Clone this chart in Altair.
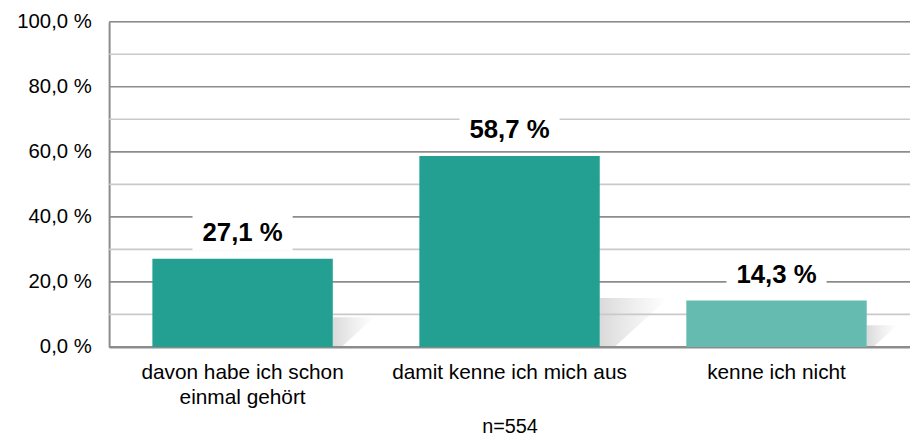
import altair as alt
import pandas as pd

categories = ["davon habe ich schon|einmal gehört", "damit kenne ich mich aus", "kenne ich nicht"]
values = [27.1, 58.7, 14.3]
bar_colors = ["#23a092", "#23a092", "#66bbb1"]
major_ticks = [0, 20, 40, 60, 80, 100]
minor_ticks = [10, 30, 50, 70, 90]
sample_note = "n=554"

W, H = 808, 328

df = pd.DataFrame({
    "cat": categories,
    "value": values,
    "color": bar_colors,
    "label": [f"{v:.1f}".replace(".", ",") + " %" for v in values],
})
grid = pd.DataFrame({
    "g": major_ticks + minor_ticks,
    "gc": ["#8c8c8c"] * len(major_ticks) + ["#c9c9c9"] * len(minor_ticks),
})

y_scale = alt.Scale(domain=[0, 100], nice=False)
x_scale = alt.Scale(paddingInner=0, paddingOuter=0)

x_axis = alt.Axis(
    labelExpr="split(datum.label, '|')",
    labelAngle=0,
    labelAlign="center",
    labelBaseline="top",
    labelFontSize=21,
    labelColor="#000000",
    labelFont="Liberation Sans",
    labelLineHeight=25,
    labelPadding=15,
    labelLimit=400,
    ticks=False,
    domain=True,
    domainColor="#8c8c8c",
    domainWidth=2,
    titleFontSize=20,
    titleFont="Liberation Sans",
    titleFontWeight="normal",
    titleColor="#000000",
    titlePadding=9,
)
y_axis = alt.Axis(
    values=major_ticks,
    labelExpr="replace(format(datum.value, '.1f'), '.', ',') + ' %'",
    labelFontSize=20.5,
    labelFont="Liberation Sans",
    labelColor="#000000",
    labelPadding=18,
    ticks=False,
    grid=False,
    domain=True,
    domainColor="#8c8c8c",
    domainWidth=2,
)

x_enc = alt.X("cat:N", sort=None, scale=x_scale, title=sample_note, axis=x_axis)
y_enc = alt.Y("value:Q", scale=y_scale, title=None, axis=y_axis)

shadow_grad = alt.LinearGradient(
    gradient="linear", x1=0, y1=0, x2=1, y2=0,
    stops=[
        alt.GradientStop(offset=0, color="#c6c6c6"),
        alt.GradientStop(offset=0.5, color="#e6e6e6"),
        alt.GradientStop(offset=1, color="#ffffff"),
    ],
)

shadows = alt.Chart(df).transform_calculate(
    ssize="4*pow(0.62*datum.value+13, 2)", zero="0"
).mark_point(
    shape="M0,0L0,-1L1.4,-1L0.3,0Z",
    filled=True,
    fill=shadow_grad,
    opacity=0.65,
    strokeWidth=0,
    xOffset=91,
).encode(
    x=x_enc,
    y=alt.Y("zero:Q", scale=y_scale, title=None, axis=y_axis),
    size=alt.Size("ssize:Q", scale=None),
)

grid_layer = alt.Chart(grid).mark_rule(strokeWidth=1.6).encode(
    y=alt.Y("g:Q", scale=y_scale, title=None, axis=y_axis),
    x=alt.value(0),
    x2=alt.value(W),
    color=alt.Color("gc:N", scale=None),
)

bars = alt.Chart(df).mark_bar(size=182).encode(
    x=x_enc,
    y=y_enc,
    color=alt.Color("color:N", scale=None),
)

boxes = alt.Chart(df).mark_point(
    shape="M-1,-0.35L1,-0.35L1,0.35L-1,0.35Z",
    filled=True,
    color="#ffffff",
    opacity=1,
    size=10200,
    yOffset=-26,
).encode(x=x_enc, y=y_enc)

texts = alt.Chart(df).mark_text(
    fontSize=26,
    fontWeight="bold",
    font="Liberation Sans",
    color="#000000",
    baseline="middle",
    dy=-26,
).encode(x=x_enc, y=y_enc, text="label:N")

chart = alt.layer(shadows, grid_layer, bars, boxes, texts).properties(
    width=W,
    height=H,
    autosize=alt.AutoSizeParams(type="none"),
    padding={"left": 102, "top": 12, "right": 0, "bottom": 92},
).configure_view(stroke=None).configure(background="#ffffff")

chart.save("out.html", embed_options={"renderer": "svg", "actions": False})
